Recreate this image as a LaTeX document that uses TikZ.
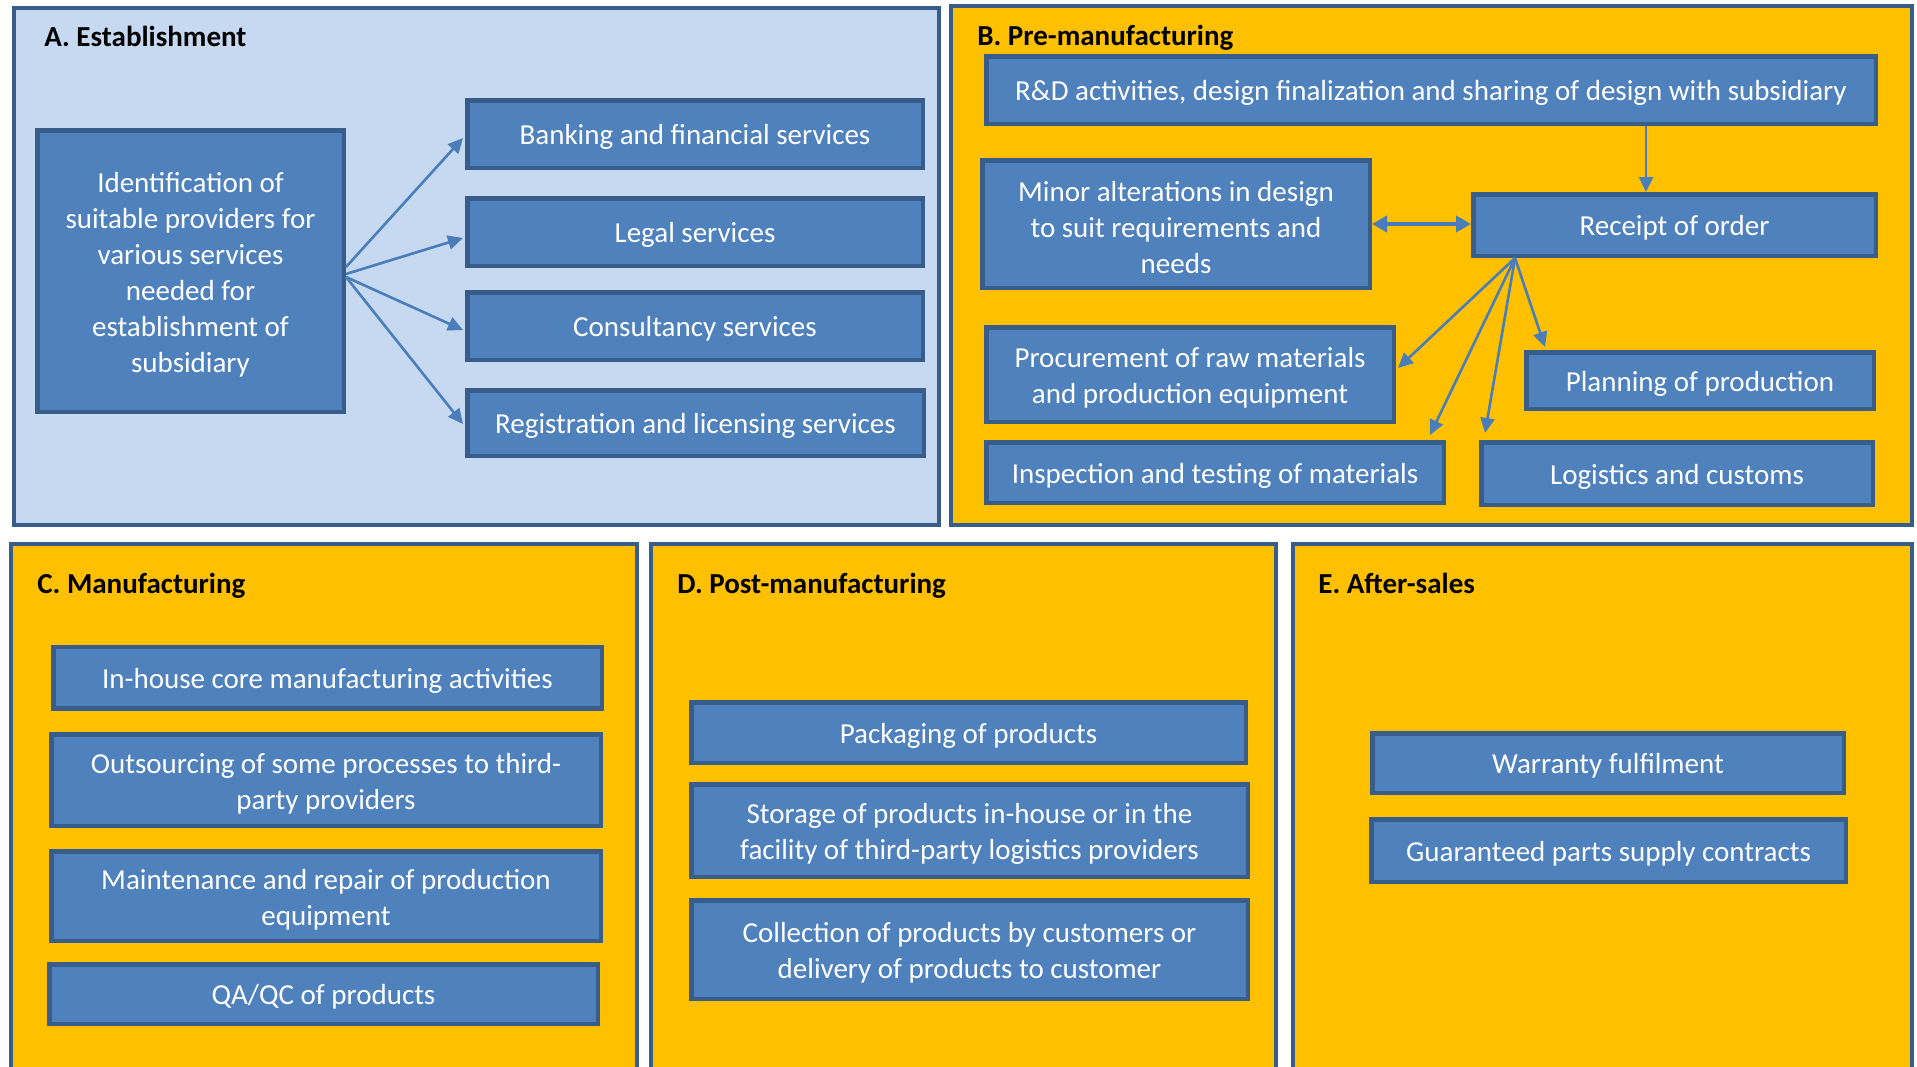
\documentclass[tikz,border=0pt]{standalone}
\usepackage{fontspec}
\setmainfont{Carlito}
\usetikzlibrary{arrows.meta,calc}
\definecolor{boxfill}{HTML}{4F81BD}
\definecolor{boxline}{HTML}{385D8A}
\definecolor{panelA}{HTML}{C6D9F1}
\definecolor{panelO}{HTML}{FFC000}
\definecolor{arrowc}{HTML}{4A7EBB}
\newcommand\upstrut{\rule{0pt}{\dimexpr\fontcharht\font`k+3.5pt\relax}}
\begin{document}
\begin{tikzpicture}[x=0.5pt,y=-0.5pt,
  panel/.style={draw=boxline, line width=2pt},
  box/.style={draw=boxline, fill=boxfill, line width=2.25pt, text=white, align=center,
    inner sep=0pt, font=\fontsize{14.5}{18}\selectfont,
    execute at begin node={\rule{0pt}{\dimexpr\fontcharht\font`k+3pt\relax}}},
  bx/.style 2 args={minimum width=#1*0.5pt-2.25pt, minimum height=#2*0.5pt-2.25pt},
  head/.style={anchor=base west, inner sep=0pt, font=\bfseries\fontsize{14.5}{18}\selectfont},
  arr/.style={draw=arrowc, line width=1.3pt, -{Triangle[length=7.5pt,width=7pt]}},
  dbl/.style={draw=arrowc, line width=2.4pt, {Triangle[length=7.5pt,width=8pt]}-{Triangle[length=7.5pt,width=8pt]}}
]
\useasboundingbox (0,0) rectangle (1917,1066);
\clip (0,0) rectangle (1917,1066);
\fill[white] (0,0) rectangle (1917,1066);

% panels
\path[panel, fill=panelA] (14,8) rectangle (939,525);
\path[panel, fill=panelO] (951,6) rectangle (1912,525);
\path[panel, fill=panelO] (11,544) rectangle (637,1085);
\path[panel, fill=panelO] (651,544) rectangle (1276,1085);
\path[panel, fill=panelO] (1293,544) rectangle (1912,1085);

% headings
\node[head] (hA) at (44,46) {A. Establishment};
\node[head] (hB) at (977,45) {B. Pre-manufacturing};
\node[head] (hC) at (37,593) {C. Manufacturing};
\node[head] (hD) at (677,593) {D. Post-manufacturing};
\node[head] (hE) at (1318,593) {E. After-sales};

% A
\node[box, bx={311}{286}] (ident) at (190.5,271) {\upstrut Identification of\\suitable providers for\\various services\\needed for\\establishment of\\subsidiary};
\node[box, bx={460}{72}] (bank) at (695,134) {Banking and financial services};
\node[box, bx={460}{72}] (legal) at (695,232) {Legal services};
\node[box, bx={460}{72}] (consult) at (695,326) {Consultancy services};
\node[box, bx={461}{70}] (reg) at (695.5,423) {Registration and licensing services};

\draw[arr] ($(ident.east)+(0,-4)$) -- ($(bank.west)+(-2,4)$);
\draw[arr] ($(ident.east)+(0,3)$) -- ($(legal.west)+(-2,6)$);
\draw[arr] ($(ident.east)+(0,6)$) -- ($(consult.west)+(-2,4)$);
\draw[arr] ($(ident.east)+(0,6)$) -- ($(reg.west)+(-2,1)$);

% B
\node[box, bx={894}{72}] (rd) at (1431,90) {R\&D activities, design finalization and sharing of design with subsidiary};
\node[box, bx={392}{132}] (minor) at (1176,224) {\upstrut Minor alterations in design\\to suit requirements and\\needs};
\node[box, bx={407}{66}] (receipt) at (1674.5,225) {Receipt of order};
\node[box, bx={412}{99}] (procure) at (1190,374.5) {\upstrut Procurement of raw materials\\and production equipment};
\node[box, bx={352}{61}] (planning) at (1700,380.5) {Planning of production};
\node[box, bx={462}{65}] (inspect) at (1215,472.5) {Inspection and testing of materials};
\node[box, bx={396}{67}] (logist) at (1677,473.5) {Logistics and customs};

\coordinate (rt) at ($(receipt.north west)+(175,0)$);
\draw[arr] (rd.south -| rt) -- (rt);
\draw[dbl] (minor.east) -- (receipt.west |- minor.east);
\coordinate (fan) at ($(receipt.south west)+(44,0)$);
\draw[arr] (fan) -- ($(procure.north east)+(2,43)$);
\draw[arr] (fan) -- ($(inspect.north east)+(-16,-5)$);
\draw[arr] (fan) -- ($(logist.north west)+(6,-7)$);
\draw[arr] (fan) -- ($(planning.north west)+(21,-3)$);

% C
\node[box, bx={553}{66}] (inhouse) at (327.5,677.5) {In-house core manufacturing activities};
\node[box, bx={554}{96}] (outsrc) at (326,780) {\upstrut Outsourcing of some processes to third-\\party providers};
\node[box, bx={554}{94}] (maint) at (326,896) {\upstrut Maintenance and repair of production\\equipment};
\node[box, bx={553}{64}] (qaqc) at (323.5,994) {QA/QC of products};

% D
\node[box, bx={559}{65}] (pack) at (968.5,732.5) {Packaging of products};
\node[box, bx={561}{97}] (storage) at (969.5,830.5) {\upstrut Storage of products in-house or in the\\facility of third-party logistics providers};
\node[box, bx={561}{103}] (collect) at (969.5,949.5) {\upstrut Collection of products by customers or\\delivery of products to customer};

% E
\node[box, bx={476}{64}] (warranty) at (1608,763) {Warranty fulfilment};
\node[box, bx={479}{67}] (guarantee) at (1608.5,850.5) {Guaranteed parts supply contracts};
\end{tikzpicture}
\end{document}
